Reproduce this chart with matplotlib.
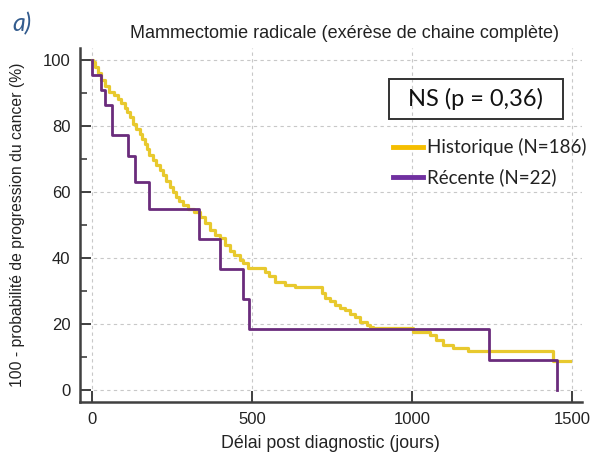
import matplotlib.pyplot as plt
import numpy as np
from matplotlib.lines import Line2D
from matplotlib.patches import Rectangle

# Historique (N=186) - courbe de Kaplan-Meier
hist_t = [0, 3, 10, 18, 29, 40, 55, 68, 81, 92, 102, 110, 118, 128, 138, 149, 157,
          165, 172, 180, 190, 201, 212, 222, 232, 243, 253, 263, 273, 284, 300, 318,
          337, 352, 369, 385, 400, 415, 431, 445, 462, 472, 487, 541, 552, 572, 603,
          634, 719, 730, 744, 760, 775, 790, 806, 822, 838, 859, 870, 878, 1003,
          1056, 1075, 1097, 1128, 1175, 1441, 1494]
hist_v = [100, 99.4, 97.8, 96, 94, 92.2, 90.4, 89.4, 88.2, 87, 85.5, 84.3, 82.8,
          80.5, 79.2, 77.5, 76.2, 74.7, 73, 71.3, 69.8, 68.2, 66.6, 65.2, 63.4, 61.6,
          60, 58.6, 57.3, 56, 55, 54, 52.4, 50.5, 48.5, 47, 46, 44, 42, 41, 39.4, 38.5,
          37, 35.8, 34.5, 32.8, 31.8, 31.2, 29.5, 28, 27, 25.8, 25, 24.2, 23.2, 22.1,
          20.6, 19.8, 19.2, 18.9, 17.6, 16.7, 15.2, 13.6, 12.8, 11.8, 8.8, 8.8]

# Récente (N=22)
rec_t = [0, 1, 29, 40, 62, 114, 135, 177, 335, 400, 473, 491, 1241, 1453]
rec_v = [100, 95.5, 90.9, 86.4, 77.2, 71, 63, 55, 45.7, 36.6, 27.5, 18.5, 9, 0]

fig = plt.figure(figsize=(5.93, 4.54), dpi=100)
ax = fig.add_axes([0.135, 0.1145, 0.846, 0.7795])

ax.plot(hist_t, hist_v, drawstyle='steps-post', color='#E8C92E', lw=2.3, zorder=3)
ax.plot(rec_t, rec_v, drawstyle='steps-post', color='#6A2C7C', lw=2.0, zorder=4)

ax.set_xlim(-37, 1531)
ax.set_ylim(-3.6, 103.6)
ax.set_xticks([0, 500, 1000, 1500])
ax.set_yticks([0, 20, 40, 60, 80, 100])
ax.set_yticks(np.arange(10, 100, 20), minor=True)

ax.grid(True, which='major', color='#C8C8C8', lw=0.8, ls=(0, (3, 3)))
ax.set_axisbelow(True)
for s in ['top', 'right']:
    ax.spines[s].set_visible(False)
for s in ['left', 'bottom']:
    ax.spines[s].set_color('#404040')
    ax.spines[s].set_linewidth(1.8)
ax.tick_params(which='major', direction='in', length=8, width=1.4, color='#404040',
               labelsize=12, pad=7, labelcolor='#222222')
ax.tick_params(which='minor', direction='in', length=5, width=1.2, color='#404040')
for lab in ax.get_xticklabels() + ax.get_yticklabels():
    lab.set_family('Liberation Sans')

ax.set_xlabel('Délai post diagnostic (jours)', fontsize=12.8, family='Liberation Sans',
              color='#222222', labelpad=6)
ax.set_ylabel('100 - probabilité de progression du cancer (%)', fontsize=11.3,
              family='Liberation Sans', color='#222222', labelpad=13)

fig.text(344 / 593, 1 - 33 / 454, 'Mammectomie radicale (exérèse de chaine complète)',
         ha='center', va='center', fontsize=13, family='Liberation Sans', color='#222222')
fig.text(22 / 593, 1 - 24 / 454, 'a)', ha='center', va='center', fontsize=18,
         style='italic', family='Lato', color='#335C8E')

# encadré NS
fig.add_artist(Rectangle((389 / 593, 1 - 119 / 454), 174 / 593, 40 / 454,
                         transform=fig.transFigure, fill=False, ec='#333333', lw=1.4))
fig.text(476 / 593, 1 - 99 / 454, 'NS (p = 0,36)', ha='center', va='center',
         fontsize=17, family='Lato', color='#111111')

# légende
for yy, col, lab in [(147, '#F5BE00', 'Historique (N=186)'),
                     (177, '#7030A0', 'Récente (N=22)')]:
    fig.add_artist(Line2D([393 / 593, 423 / 593], [1 - yy / 454] * 2,
                          transform=fig.transFigure, color=col, lw=3.5))
    fig.text(427 / 593, 1 - yy / 454, lab, ha='left', va='center', fontsize=13.5,
             family='Lato', color='#222222')

fig.savefig('out.png', dpi=100)
